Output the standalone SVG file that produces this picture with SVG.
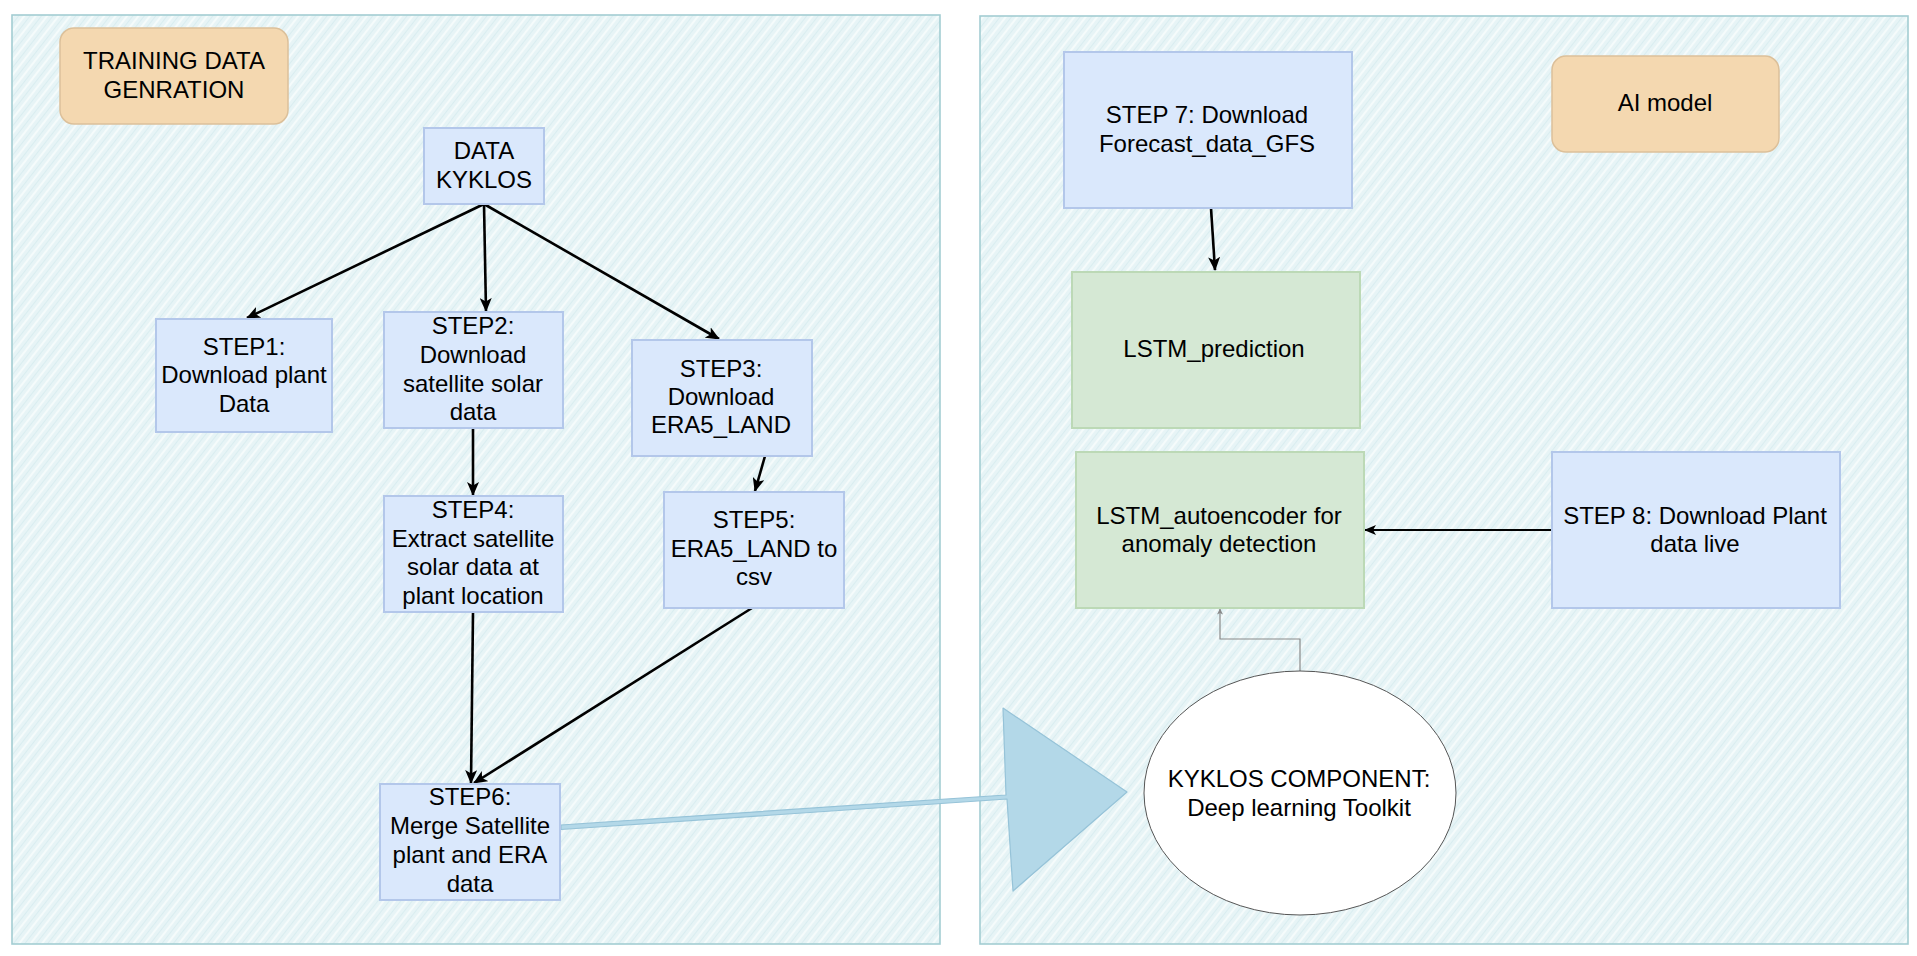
<svg xmlns="http://www.w3.org/2000/svg" width="1917" height="956" viewBox="0 0 1917 956">
<style>
text{font-family:"Liberation Sans",Arial,Helvetica,sans-serif;font-size:24px;fill:#000;text-anchor:middle}
.panel{fill:url(#hatch);stroke:#a3cdd3;stroke-width:1.6}
.blue{fill:#dae8fc;stroke:#b3c7ea;stroke-width:2}
.green{fill:#d5e8d4;stroke:#bcd9b6;stroke-width:2}
.orange{fill:#f4d8b0;stroke:#dcc09a;stroke-width:1.5}
.arr{fill:none;stroke:#000;stroke-width:2.6;marker-end:url(#ah)}
.arr2{fill:none;stroke:#000;stroke-width:2;marker-end:url(#ah2)}
.gray{fill:none;stroke:#8a8a8a;stroke-width:1.2;marker-end:url(#ahg)}
</style>
<defs>
<pattern id="hatch" patternUnits="userSpaceOnUse" width="9" height="9" patternTransform="rotate(38)">
<rect width="9" height="9" fill="#e7f4f6"/>
<line x1="2" y1="0" x2="2" y2="9" stroke="#ffffff" stroke-width="1.6" stroke-opacity="0.75"/>
<line x1="6.5" y1="0" x2="6.5" y2="9" stroke="#d2eaee" stroke-width="0.7"/>
</pattern>
<marker id="ah" markerUnits="userSpaceOnUse" viewBox="0 0 14 12" markerWidth="14" markerHeight="12" refX="13" refY="6" orient="auto">
<path d="M0,0 L14,6 L0,12 L3.5,6 Z" fill="#000"/>
</marker>
<marker id="ah2" markerUnits="userSpaceOnUse" viewBox="0 0 12 10" markerWidth="12" markerHeight="10" refX="11" refY="5" orient="auto">
<path d="M0,0 L12,5 L0,10 L3,5 Z" fill="#000"/>
</marker>
<marker id="ahg" markerUnits="userSpaceOnUse" viewBox="0 0 6 6" markerWidth="6" markerHeight="6" refX="5.5" refY="3" orient="auto">
<path d="M0,0 L6,3 L0,6 L1.5,3 Z" fill="#8a8a8a"/>
</marker>
</defs>
<rect width="1917" height="956" fill="#ffffff"/>

<g id="panel-left"><rect class="panel" x="12" y="15" width="928" height="929"/></g>
<g id="panel-right"><rect class="panel" x="980" y="16" width="928" height="928"/></g>

<g id="connectors">
<path class="arr" d="M484,204 L247,318"/>
<path class="arr" d="M484,204 L486,311"/>
<path class="arr" d="M484,204 L719,339"/>
<path class="arr" d="M473,428 L473,495"/>
<path class="arr" d="M765,456 L755,491"/>
<path class="arr" d="M473,612 L471,783"/>
<path class="arr" d="M752,608 L474,783"/>
<path class="arr" d="M1211,208 L1215,270"/>
<path class="arr2" d="M1552,530 L1365,530"/>
<path class="gray" d="M1300,672 L1300,639 L1220,639 L1220,609"/>
<path id="flex-arrow" d="M561,825 L1006,795 L1003,708 L1127,792 L1013,891 L1007,799 L561,829.5 Z" fill="#b3d8e8" stroke="#96c3d8" stroke-width="1.2" stroke-linejoin="round"/>
</g>

<g id="training-label"><rect class="orange" x="60" y="28" width="228" height="96" rx="14"/>
<text x="174" y="69">TRAINING DATA</text><text x="174" y="98">GENRATION</text></g>

<g id="data-kyklos"><rect class="blue" x="424" y="128" width="120" height="76"/>
<text x="484" y="159">DATA</text><text x="484" y="188">KYKLOS</text></g>

<g id="step1"><rect class="blue" x="156" y="319" width="176" height="113"/>
<text x="244" y="355">STEP1:</text><text x="244" y="383">Download plant</text><text x="244" y="412">Data</text></g>

<g id="step2"><rect class="blue" x="384" y="312" width="179" height="116"/>
<text x="473" y="334">STEP2:</text><text x="473" y="363">Download</text><text x="473" y="392">satellite solar</text><text x="473" y="420">data</text></g>

<g id="step3"><rect class="blue" x="632" y="340" width="180" height="116"/>
<text x="721" y="377">STEP3:</text><text x="721" y="405">Download</text><text x="721" y="433">ERA5_LAND</text></g>

<g id="step4"><rect class="blue" x="384" y="496" width="179" height="116"/>
<text x="473" y="518">STEP4:</text><text x="473" y="547">Extract satellite</text><text x="473" y="575">solar data at</text><text x="473" y="604">plant location</text></g>

<g id="step5"><rect class="blue" x="664" y="492" width="180" height="116"/>
<text x="754" y="528">STEP5:</text><text x="754" y="557">ERA5_LAND to</text><text x="754" y="585">csv</text></g>

<g id="step6"><rect class="blue" x="380" y="784" width="180" height="116"/>
<text x="470" y="805">STEP6:</text><text x="470" y="834">Merge Satellite</text><text x="470" y="863">plant and ERA</text><text x="470" y="892">data</text></g>

<g id="step7"><rect class="blue" x="1064" y="52" width="288" height="156"/>
<text x="1207" y="123">STEP 7: Download</text><text x="1207" y="152">Forecast_data_GFS</text></g>

<g id="ai-model-label"><rect class="orange" x="1552" y="56" width="227" height="96" rx="14"/>
<text x="1665" y="111">AI model</text></g>

<g id="lstm-prediction"><rect class="green" x="1072" y="272" width="288" height="156"/>
<text x="1214" y="357">LSTM_prediction</text></g>

<g id="lstm-autoencoder"><rect class="green" x="1076" y="452" width="288" height="156"/>
<text x="1219" y="524">LSTM_autoencoder for</text><text x="1219" y="552">anomaly detection</text></g>

<g id="step8"><rect class="blue" x="1552" y="452" width="288" height="156"/>
<text x="1695" y="524">STEP 8: Download Plant</text><text x="1695" y="552">data live</text></g>

<g id="kyklos-component"><ellipse cx="1300" cy="793" rx="156" ry="122" fill="#ffffff" stroke="#555555" stroke-width="1"/>
<text x="1299" y="787">KYKLOS COMPONENT:</text><text x="1299" y="816">Deep learning Toolkit</text></g>
</svg>
